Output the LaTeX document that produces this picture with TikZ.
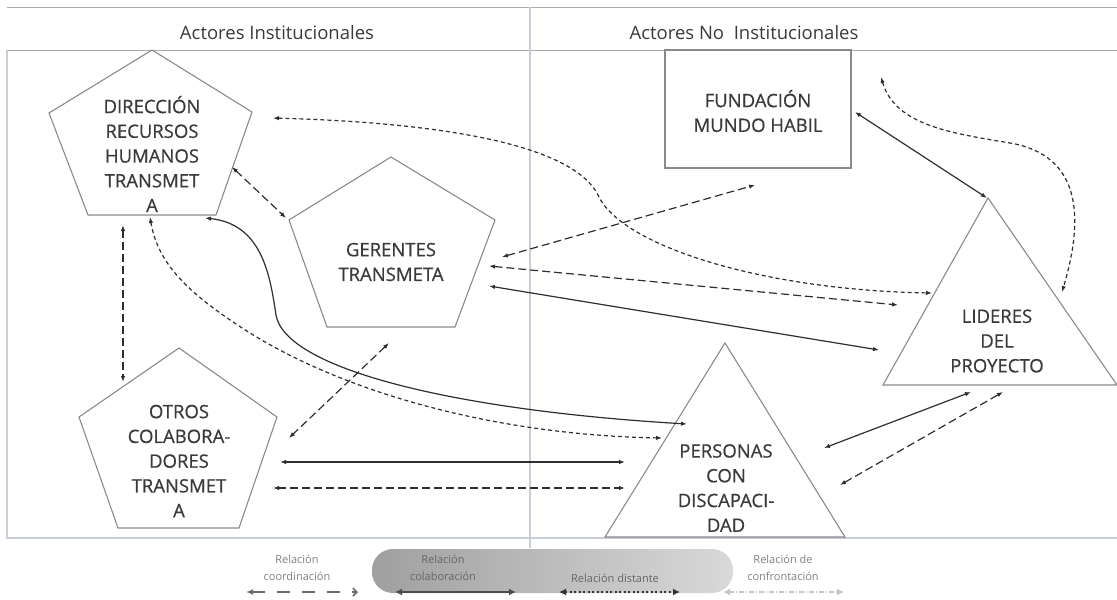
\documentclass[tikz,border=0pt]{standalone}
\usepackage{fontspec}
\setmainfont{Open Sans}
\newfontfamily\actorfont{Open Sans}[FakeBold=0.6]
\usetikzlibrary{arrows.meta}
\definecolor{txtgray}{HTML}{3A3A3A}
\definecolor{shapegray}{HTML}{8A8A8A}
\definecolor{linegray}{HTML}{2E2E2E}
\definecolor{rulegray}{HTML}{ABABAB}
\definecolor{framegray}{HTML}{C7CEDA}
\tikzstyle{actor} = [align=center, inner sep=0pt, text=txtgray,
    font=\actorfont\fontsize{18.5}{24.75}\selectfont]
\tikzstyle{headtext} = [inner sep=0pt, text=txtgray, font=\fontsize{18.5}{22}\selectfont]
\tikzstyle{outline} = [draw=shapegray, line width=1.1pt]
\tikzstyle{coord} = [draw=linegray, line width=1.2pt, dash pattern=on 8pt off 4pt, <->]
\tikzstyle{colab} = [draw=linegray, line width=1.2pt, <->]
\tikzstyle{dist} = [draw=linegray, line width=1.2pt, dash pattern=on 4pt off 3pt, <->]
\tikzstyle{legtext} = [align=center, inner sep=0pt, text=gray,
    font=\fontsize{11}{17}\selectfont]

\begin{document}
\begin{tikzpicture}[x=1pt, y=-1pt, >={Latex[length=6pt,width=4.5pt]}]
\useasboundingbox (0,0) rectangle (1117,600);

\draw[rulegray] (7,7) -- (1117,7);
\draw[rulegray] (7,50) -- (1117,50);
\draw[framegray, line width=1.2pt] (7,50) -- (7,538) -- (1117,538);
\draw[framegray, line width=1.2pt] (530,7) -- (530,548);
\node[headtext] (inst) at (277,33) {Actores Institucionales};
\node[headtext] (noinst) at (744,33) {Actores No\ \ Institucionales};

\draw[outline] (152,50) -- (252,112) -- (216,215) -- (88,215) -- (49,113) -- cycle;
\draw[outline] (391,157) -- (495,220) -- (455,327) -- (327,327) -- (289,220) -- cycle;
\draw[outline] (179,348) -- (277,417) -- (239,528) -- (118,528) -- (79,417) -- cycle;
\draw[outline] (665,50) rectangle (851,168);
\draw[outline] (988,198) -- (1117,385) -- (883,385) -- cycle;
\draw[outline] (725,343) -- (845,537) -- (605,537) -- cycle;

\node[actor] (dir) at (152,154) {DIRECCIÓN\\RECURSOS\\HUMANOS\\TRANSMET\\A};
\node[actor] (ger) at (391,262) {GERENTES\\TRANSMETA};
\node[actor] (otr) at (179,461) {OTROS\\COLABORA-\\DORES\\TRANSMET\\A};
\node[actor] (fun) at (758,111) {FUNDACIÓN\\MUNDO HABIL};
\node[actor] (lid) at (997,341) {LIDERES\\DEL\\PROYECTO};
\node[actor] (per) at (726,488) {PERSONAS\\CON\\DISCAPACI-\\DAD};

\coordinate (dir-g) at (232,167); \coordinate (ger-d) at (286,218);
\coordinate (dir-l) at (273,118); \coordinate (lid-d) at (932,293);
\coordinate (dir-p1) at (205,218); \coordinate (per-d1) at (687,424);
\coordinate (dir-p2) at (150,217); \coordinate (per-d2) at (662,438);
\coordinate (dir-o) at (123,225); \coordinate (otr-d) at (123,382);
\coordinate (ger-f) at (502,257); \coordinate (fun-g) at (755,185);
\coordinate (ger-l1) at (489,266); \coordinate (lid-g1) at (898,305);
\coordinate (ger-l2) at (489,286); \coordinate (lid-g2) at (879,350);
\coordinate (ger-o) at (389,343); \coordinate (otr-g) at (289,438);
\coordinate (fun-l) at (855,112); \coordinate (lid-f) at (987,198);
\coordinate (lid-t) at (881,77); \coordinate (lid-r) at (1062,292);
\coordinate (otr-p1) at (280,462); \coordinate (per-o1) at (625,462);
\coordinate (otr-p2) at (273,488); \coordinate (per-o2) at (625,488);
\coordinate (per-l1) at (824,448); \coordinate (lid-p1) at (971,392);
\coordinate (per-l2) at (840,485); \coordinate (lid-p2) at (1003,392);

\draw[coord] (dir-g) -- (ger-d);
\draw[dist] (dir-l) .. controls (420,122) and (570,140) .. (598,195)
    .. controls (620,245) and (760,290) .. (lid-d);
\draw[colab] (dir-p1) .. controls (262,224) and (270,275) .. (276,315)
    .. controls (285,368) and (450,410) .. (per-d1);
\draw[dist] (dir-p2) .. controls (158,265) and (190,295) .. (250,333)
    .. controls (350,395) and (500,435) .. (per-d2);
\draw[coord] (dir-o) -- (otr-d);
\draw[coord] (ger-f) -- (fun-g);
\draw[coord] (ger-l1) -- (lid-g1);
\draw[colab] (ger-l2) -- (lid-g2);
\draw[coord] (ger-o) -- (otr-g);
\draw[colab] (fun-l) -- (lid-f);
\draw[dist] (lid-t) .. controls (895,125) and (950,133) .. (1010,143)
    .. controls (1080,155) and (1085,215) .. (lid-r);
\draw[colab] (otr-p1) -- (per-o1);
\draw[coord] (otr-p2) -- (per-o2);
\draw[colab] (per-l1) -- (lid-p1);
\draw[coord] (per-l2) -- (lid-p2);

\shade[left color=gray!75, right color=gray!30, rounded corners=21pt] (372,549) rectangle (733,593);
\node[legtext] (lcoord) at (297,568) {Relación\\coordinación};
\node[legtext, text=gray!80!black] (lcolab) at (443,568) {Relación\\colaboración};
\node[legtext, text=gray!80!black] (ldist) at (615,578) {Relación distante};
\node[legtext] (lconf) at (783,568) {Relación de\\confrontación};

\coordinate (lc-a) at (246,592); \coordinate (lc-b) at (358,592);
\coordinate (lb-a) at (395,592); \coordinate (lb-b) at (516,592);
\coordinate (ld-a) at (559,592); \coordinate (ld-b) at (680,592);
\coordinate (lf-a) at (723,592); \coordinate (lf-b) at (844,592);
\draw[gray!85!black, line width=1.6pt, dash pattern=on 13pt off 12pt,
    {Latex[length=7pt,width=6pt]}-{Straight Barb[length=4pt,width=8pt]}] (lc-a) -- (lc-b);
\draw[gray!60!black, line width=2pt, {Latex[length=7pt,width=7pt]}-{Latex[length=7pt,width=7pt]}] (lb-a) -- (lb-b);
\draw[black!80, line width=2pt, dash pattern=on 2pt off 2.5pt,
    {Latex[length=7pt,width=7pt]}-{Latex[length=7pt,width=7pt]}] (ld-a) -- (ld-b);
\draw[gray!45, line width=1.6pt, dash pattern=on 5pt off 2pt on 1pt off 2pt,
    {Latex[length=7pt,width=7pt]}-{Latex[length=7pt,width=7pt]}] (lf-a) -- (lf-b);
\end{tikzpicture}
\end{document}
